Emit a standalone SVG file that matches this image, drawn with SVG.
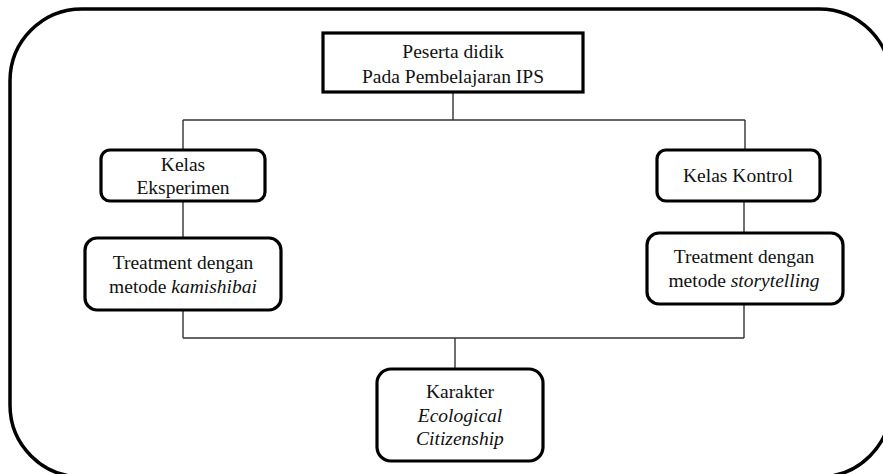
<svg xmlns="http://www.w3.org/2000/svg" width="883" height="474" viewBox="0 0 883 474">
  <style>
    .frame { fill: none; stroke: #000; stroke-width: 3.5; }
    .box { fill: #fff; stroke: #000; stroke-width: 3.2; }
    .conn { fill: none; stroke: #333; stroke-width: 1.4; }
    text { font-family: "Liberation Serif", "Times New Roman", serif; font-size: 19.5px; fill: #111; text-anchor: middle; }
    .it { font-style: italic; }
  </style>
  <rect width="883" height="474" fill="#fff"/>
  <rect class="frame" x="10" y="9" width="881" height="468" rx="72" ry="72"/>
  <g id="connectors">
    <path class="conn" d="M453 92 V120 M183 120 H745 M183 120 V150 M745 120 V150 M183 201 V238 M744 201 V233 M183 310 V338 M744 304 V338 M183 338 H744 M455 338 V369"/>
  </g>
  <g id="node-peserta">
    <rect class="box" x="323" y="33" width="260" height="59"/>
    <text x="453" y="57.5">Peserta didik</text>
    <text x="453" y="82.5">Pada Pembelajaran IPS</text>
  </g>
  <g id="node-eksperimen">
    <rect class="box" x="101" y="150" width="164" height="51" rx="9" ry="9"/>
    <text x="183" y="170.5">Kelas</text>
    <text x="183" y="194">Eksperimen</text>
  </g>
  <g id="node-kontrol">
    <rect class="box" x="657" y="150" width="163" height="51" rx="9" ry="9"/>
    <text x="738" y="181.5">Kelas Kontrol</text>
  </g>
  <g id="node-kamishibai">
    <rect class="box" x="85" y="238" width="196" height="72" rx="12" ry="12"/>
    <text x="183" y="269">Treatment dengan</text>
    <text x="183" y="292.5">metode <tspan class="it">kamishibai</tspan></text>
  </g>
  <g id="node-storytelling">
    <rect class="box" x="647" y="233" width="196" height="71" rx="12" ry="12"/>
    <text x="744" y="262.5">Treatment dengan</text>
    <text x="744" y="286.5">metode <tspan class="it">storytelling</tspan></text>
  </g>
  <g id="node-karakter">
    <rect class="box" x="377" y="369" width="166" height="92" rx="14" ry="14"/>
    <text x="460" y="398">Karakter</text>
    <text x="460" y="421.5" class="it">Ecological</text>
    <text x="460" y="445" class="it">Citizenship</text>
  </g>
</svg>
